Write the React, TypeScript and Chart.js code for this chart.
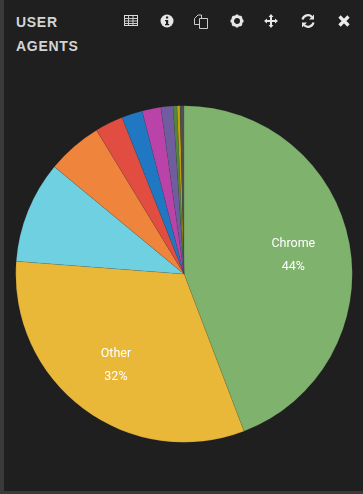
import React, { useEffect, useRef } from "react";
import { Chart, registerables } from "chart.js";

Chart.register(...registerables);

const categories = ["Chrome", "Other", "Safari", "Firefox", "IE 11", "Edge", "Opera", "Android", "Samsung", "UC Browser", "IE 10"];
const shares = [44.2, 32.0, 9.8, 5.3, 2.7, 2.0, 1.8, 1.16, 0.38, 0.28, 0.38];
const sliceColors = ["#7eb26d", "#eab839", "#6ed0e0", "#ef843c", "#e24d42", "#1f78c1", "#ba43a9", "#705da0", "#508642", "#cca300", "#4f4f4f"];
const labelledCategories = ["Chrome", "Other"];
const labelledPercents = ["44%", "32%"];

// Writes the category and its percentage inside the largest slices.
const sliceLabels = {
  id: "sliceLabels",
  afterDatasetsDraw(chart: Chart) {
    const { ctx } = chart;
    const arcs = chart.getDatasetMeta(0).data as any[];
    ctx.save();
    ctx.fillStyle = "#ffffff";
    ctx.font = "12.5px Roboto";
    ctx.textAlign = "center";
    ctx.textBaseline = "middle";
    labelledCategories.forEach((name, n) => {
      const arc = arcs[categories.indexOf(name)];
      const mid = (arc.startAngle + arc.endAngle) / 2;
      const r = (arc.outerRadius * 2) / 3;
      const x = arc.x + Math.cos(mid) * r;
      const y = arc.y + Math.sin(mid) * r;
      ctx.fillText(name, x - 1, y - 10);
      ctx.fillText(labelledPercents[n], x - 1, y + 13);
    });
    ctx.restore();
  },
};

const iconStyle = (left: number): React.CSSProperties => ({ position: "absolute", left, top: 13, width: 16, height: 16 });

export default function App() {
  const canvasRef = useRef<HTMLCanvasElement>(null);

  useEffect(() => {
    const chart = new Chart(canvasRef.current!, {
      type: "pie",
      data: {
        labels: categories,
        datasets: [{ data: shares, backgroundColor: sliceColors, borderWidth: 0.5, borderColor: "rgba(60,60,60,0.25)" }],
      },
      options: {
        animation: false,
        responsive: false,
        layout: { padding: 1.5 },
        plugins: { legend: { display: false }, tooltip: { enabled: false } },
      },
      plugins: [sliceLabels],
    });
    return () => chart.destroy();
  }, []);

  return (
    <div style={{ position: "fixed", inset: 0, background: "#1f1f1f", overflow: "hidden" }}>
      <div style={{ position: "absolute", left: 0, top: 0, bottom: 0, width: 4, background: "#3a3a3a" }} />
      <div style={{ position: "absolute", left: 0, right: 0, bottom: 0, height: 3, background: "#3a3a3a" }} />
      <div style={{ position: "absolute", left: 16, top: 9.5, width: 90, color: "#d4d4d4", font: "bold 14px/24px 'Liberation Sans'", letterSpacing: 0.7 }}>
        USER AGENTS
      </div>

      <svg style={iconStyle(123)} viewBox="0 0 16 16">
        <rect x="1.500" y="2.500" width="13" height="10" fill="none" stroke="#ddd" />
        <path d="M1.500 5.500h13M1.500 8h13M1.500 10.500h13M5.500 3v9M10 3v9" stroke="#ccc" strokeWidth="1" />
      </svg>
      <svg style={iconStyle(159)} viewBox="0 0 16 16">
        <circle cx="8" cy="8" r="6.500" fill="#e6e6e6" />
        <rect x="7" y="3.500" width="2.200" height="2" fill="#1f1f1f" />
        <path d="M6 7h3.200v4h1v1.200H6V11h1V8.200H6z" fill="#1f1f1f" />
      </svg>
      <svg style={iconStyle(193)} viewBox="0 0 16 16" fill="none" stroke="#ccc" strokeWidth="1">
        <path d="M1.500 11.500V5.500L5 2h3.500v3" />
        <path d="M1.500 11.500H6" />
        <path d="M6.500 5.500h8v10h-8z" />
      </svg>
      <svg style={iconStyle(229)} viewBox="0 0 16 16">
        <circle cx="8" cy="8" r="4.500" fill="none" stroke="#e6e6e6" strokeWidth="3" />
        <path d="M8 1.500v13M1.500 8h13M3.400 3.400l9.200 9.200M12.600 3.400l-9.200 9.200" stroke="#e6e6e6" strokeWidth="2.400" strokeDasharray="2.400 8.200 2.400" />
      </svg>
      <svg style={iconStyle(263)} viewBox="0 0 16 16">
        <path d="M8 1l2.500 3H9v3h3V5.500l3 2.500-3 2.500V9H9v3h1.500L8 15l-2.500-3H7V9H4v1.500L1 8l3-2.500V7h3V4H5.500z" fill="#e6e6e6" />
      </svg>
      <svg style={iconStyle(300)} viewBox="0 0 16 16" fill="none" stroke="#e6e6e6" strokeWidth="2.200">
        <path d="M2.500 6.500A5.600 5.600 0 0 1 12 4" />
        <path d="M13.500 9.500A5.600 5.600 0 0 1 4 12" />
        <path d="M14 1.500v5h-5zM2 14.500v-5h5z" fill="#e6e6e6" stroke="none" />
      </svg>
      <svg style={iconStyle(336)} viewBox="0 0 16 16">
        <path d="M3.500 3.500l9 9M12.500 3.500l-9 9" stroke="#ececec" strokeWidth="3.200" />
      </svg>

      <canvas ref={canvasRef} width={340} height={340} style={{ position: "absolute", left: 13.5, top: 104 }} />
    </div>
  );
}
